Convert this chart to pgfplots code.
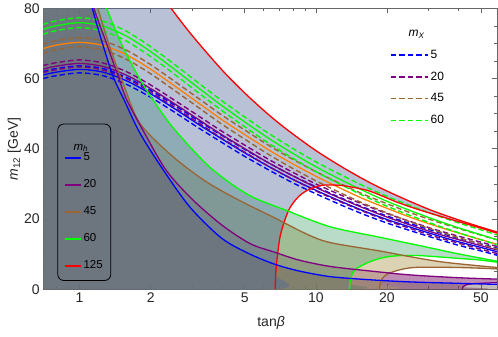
\documentclass[border=0pt]{standalone}
\usepackage{fontspec}
\setmainfont{Liberation Sans}
\usepackage{pgfplots}
\usepackage{pgfplotstable}
\pgfplotsset{compat=1.18}
\usepgfplotslibrary{fillbetween}

\definecolor{mpurple}{rgb}{0.5,0,0.5}
\definecolor{mbrown}{rgb}{0.6,0.4,0.2}
\definecolor{morange}{rgb}{1,0.5,0}
\definecolor{mgreen}{rgb}{0,1,0}
\definecolor{fillR}{RGB}{80,100,155}
\definecolor{fillG}{RGB}{36,146,83}
\definecolor{fillB}{RGB}{197,180,130}
\definecolor{fillP}{RGB}{111,0,88}
\definecolor{fillK}{RGB}{110,88,81}

% m_h = 125 boundaries
\pgfplotstableread{
t y
0.7 149
1.0 125
1.5 102
2.0 88.4
2.44 80.0
3.0 72.2
4.0 62.5
5.0 55.9
6.0 51.0
7.0 47.2
8.0 44.2
10.0 39.5
13.0 34.7
17.0 30.3
22.0 26.7
30.0 22.8
40.0 19.8
50.0 17.7
58.5 16.3
}\upR
\pgfplotstableread{
t y
0.7 0
6.73 0
6.76 4
6.85 8.5
7.06 15.0
7.4 19.8
7.79 23.3
8.4 26.2
9.16 28.1
10.4 29.5
11.5 29.7
13 29.5
15 28.8
17 27.9
20 26.0
21.3 25.2
25 23.5
30 21.8
40 19.3
50 17.4
58.5 16.0
}\loR
% m_h = 60
\pgfplotstableread{
t y
0.7 130
1.0 100
1.15 89
1.293 80.4
1.5 70.0
1.776 60.5
2.05 53.8
2.5 45.8
3.46 35.5
4.5 29.5
5.5 26.0
7.54 22.4
11.5 17.8
18.7 14.8
30 11.9
40 10.1
58.5 8.0
}\upG
\pgfplotstableread{
t y
0.7 0
13.9 0
13.93 1.5
14.05 3.0
14.3 4.5
14.8 5.8
15.9 7.0
17.5 8.2
19.9 9.2
23 9.6
27 9.6
32 9.3
40 8.8
50 8.3
58.5 7.7
}\loG
% m_h = 45
\pgfplotstableread{
t y
0.7 140
1.0 100
1.1 89
1.19 80.4
1.35 68.5
1.55 57.5
1.806 47.1
2.5 37.6
3.46 30.5
4.78 25.2
6.62 20.5
9.16 15.7
11.5 13.3
18.7 10.9
25 9.3
35 7.7
58.5 6.2
}\upB
\pgfplotstableread{
t y
0.7 0
18.6 0
18.7 1.5
19.0 2.8
19.6 3.8
20.5 4.6
22 5.3
24 5.9
26 6.2
30 6.3
40 6.2
50 6.0
58.5 5.8
}\loB
% m_h = 20
\pgfplotstableread{
t y
0.7 140
1.0 100
1.1 88
1.146 80.4
1.3 70.0
1.45 61.0
1.587 53.8
1.9 44.0
2.33 33.8
3.0 25.6
4.0 18.3
5.27 13.0
6.73 10.5
8.5 8.3
11.5 6.5
17 5.2
25 4.1
40 3.3
58.5 2.9
}\upP
\pgfplotstableread{
t y
0.7 0
41.7 0
41.9 0.6
42.8 1.1
45 1.5
50 1.7
58.5 1.9
}\loP
% m_h = 5
\pgfplotstableread{
t y
0.7 140
1.0 95
1.128 80.4
1.25 70.0
1.388 60.5
1.546 53.8
1.8 44.5
2.27 33.8
2.94 23.3
4.0 14.5
5.27 10.0
6.73 7.1
8.5 5.2
11.5 3.6
17 2.7
25 2.1
40 1.7
58.5 1.4
}\upK
\pgfplotstableread{
t y
0.7 0
58.5 0
}\loK

% m_X bands: centre and the two dashed edges
\pgfplotstableread{
t c lo hi
0.7 74.0 72.6 75.4
0.794 75.0 73.6 76.4
1.0 75.9 74.5 77.3
1.259 74.9 73.5 76.3
1.585 72.0 70.6 73.4
1.995 67.7 66.3 69.1
2.512 62.7 61.3 64.1
3.162 57.5 56.1 58.9
3.981 52.4 51.0 53.8
5.012 47.6 46.2 49.0
6.31 43.0 41.6 44.4
7.943 38.8 37.4 40.2
10 34.9 33.5 36.3
12.59 31.4 30.0 32.8
15.85 28.1 26.7 29.5
19.95 25.1 23.7 26.5
25.12 22.4 21.0 23.8
31.62 19.9 18.5 21.3
39.81 17.6 16.2 19.0
50.12 15.5 14.1 16.9
58.5 14.1 12.7 15.5
}\bandSixty
\pgfplotstableread{
t c lo hi
0.7 68.5 67.2 69.8
0.794 69.5 68.2 70.8
1.0 70.3 69.0 71.6
1.259 69.4 68.1 70.7
1.585 66.7 65.4 68.0
1.995 62.7 61.4 64.0
2.512 58.0 56.7 59.3
3.162 53.2 51.9 54.5
3.981 48.4 47.1 49.7
5.012 44.0 42.7 45.3
6.31 39.7 38.4 41.0
7.943 35.8 34.5 37.1
10 32.2 30.9 33.5
12.59 28.9 27.6 30.2
15.85 25.8 24.5 27.1
19.95 23.1 21.8 24.4
25.12 20.5 19.2 21.8
31.62 18.2 16.9 19.5
39.81 16.1 14.8 17.4
50.12 14.1 12.8 15.4
58.5 12.8 11.5 14.1
}\bandFortyfive
\pgfplotstableread{
t c lo hi
0.7 62.7 61.7 63.7
0.794 63.5 62.5 64.5
1.0 64.3 63.3 65.3
1.259 63.4 62.4 64.4
1.585 60.9 59.9 61.9
1.995 57.2 56.2 58.2
2.512 52.9 51.9 53.9
3.162 48.5 47.5 49.5
3.981 44.1 43.1 45.1
5.012 40.0 39.0 41.0
6.31 36.0 35.0 37.0
7.943 32.4 31.4 33.4
10 29.0 28.0 30.0
12.59 26.0 25.0 27.0
15.85 23.2 22.2 24.2
19.95 20.6 19.6 21.6
25.12 18.3 17.3 19.3
31.62 16.1 15.1 17.1
39.81 14.2 13.2 15.2
50.12 12.4 11.4 13.4
58.5 11.2 10.2 12.2
}\bandTwenty
\pgfplotstableread{
t c lo hi
0.7 61.0 60.0 62.0
0.794 61.8 60.8 62.8
1.0 62.6 61.6 63.6
1.259 61.8 60.8 62.8
1.585 59.3 58.3 60.3
1.995 55.7 54.7 56.7
2.512 51.5 50.5 52.5
3.162 47.1 46.1 48.1
3.981 42.9 41.9 43.9
5.012 38.8 37.8 39.8
6.31 35.0 34.0 36.0
7.943 31.4 30.4 32.4
10 28.2 27.2 29.2
12.59 25.2 24.2 26.2
15.85 22.4 21.4 23.4
19.95 19.9 18.9 20.9
25.12 17.7 16.7 18.7
31.62 15.6 14.6 16.6
39.81 13.6 12.6 14.6
50.12 11.9 10.9 12.9
58.5 10.7 9.7 11.7
}\bandFive

\pgfplotsset{
  hline/.style={line width=1.3pt, smooth, forget plot},
  dline/.style={line width=1.4pt, smooth, dash pattern=on 5.5pt off 3pt, forget plot},
  overlay axis/.style={scale only axis, width=453.7pt, height=281pt,
    hide axis, xmin=0, xmax=1, ymin=0, ymax=1, legend cell align=left},
}

\begin{document}
\begin{tikzpicture}
\begin{axis}[
  scale only axis, width=453.7pt, height=281pt,
  xmode=log, xmin=0.702, xmax=58.5, ymin=0, ymax=80,
  xtick={1,2,5,10,20,50}, xticklabels={1,2,5,10,20,50},
  minor xtick={0.8,0.9,3,4,6,7,8,9,30,40},
  ytick={0,20,40,60,80},
  minor ytick={5,10,15,25,30,35,45,50,55,65,70,75},
  major tick length=5pt, minor tick length=3pt,
  tick style={black!60, line width=0.6pt},
  axis line style={black!60, line width=0.8pt},
  /pgf/number format/assume math mode=true,
  tick label style={font=\fontsize{14}{16}\selectfont, black!85},
  xlabel={tan\textit{β}}, ylabel={\textit{m}\textsubscript{12} [GeV]},
  label style={font=\fontsize{14}{16}\selectfont, black!85},
  xlabel style={at={(axis description cs:0.502,-0.12)}, anchor=center},
  ylabel style={at={(axis description cs:-0.064,0.5)}, anchor=center},
]
% invisible boundaries for the region fills
\addplot[draw=none, name path=uR, smooth, forget plot] table[x=t,y=y] {\upR};
\addplot[draw=none, name path=lR, smooth, forget plot] table[x=t,y=y] {\loR};
\addplot[draw=none, name path=uG, smooth, forget plot] table[x=t,y=y] {\upG};
\addplot[draw=none, name path=lG, smooth, forget plot] table[x=t,y=y] {\loG};
\addplot[draw=none, name path=uB, smooth, forget plot] table[x=t,y=y] {\upB};
\addplot[draw=none, name path=lB, smooth, forget plot] table[x=t,y=y] {\loB};
\addplot[draw=none, name path=uP, smooth, forget plot] table[x=t,y=y] {\upP};
\addplot[draw=none, name path=lP, smooth, forget plot] table[x=t,y=y] {\loP};
\addplot[draw=none, name path=uK, smooth, forget plot] table[x=t,y=y] {\upK};
\addplot[draw=none, name path=lK, forget plot] table[x=t,y=y] {\loK};

\addplot[fill=fillP, fill opacity=0.45, draw=none, forget plot] fill between[of=uP and lP];
\addplot[fill=fillB, fill opacity=0.6, draw=none, forget plot] fill between[of=uB and lB];
\addplot[fill=fillG, fill opacity=0.32, draw=none, forget plot] fill between[of=uG and lG];
\addplot[fill=fillK, fill opacity=0.4, draw=none, forget plot] fill between[of=uK and lK];
\addplot[fill=fillR, fill opacity=0.4, draw=none, forget plot] fill between[of=uR and lR];

% m_X bands
\addplot[dline, blue] table[x=t,y=lo] {\bandFive};
\addplot[dline, blue] table[x=t,y=hi] {\bandFive};
\addplot[hline, blue] table[x=t,y=c] {\bandFive};
\addplot[dline, mpurple] table[x=t,y=lo] {\bandTwenty};
\addplot[dline, mpurple] table[x=t,y=hi] {\bandTwenty};
\addplot[hline, mpurple] table[x=t,y=c] {\bandTwenty};
\addplot[dline, mbrown] table[x=t,y=lo] {\bandFortyfive};
\addplot[dline, mbrown] table[x=t,y=hi] {\bandFortyfive};
\addplot[hline, morange] table[x=t,y=c] {\bandFortyfive};
\addplot[dline, mgreen] table[x=t,y=lo] {\bandSixty};
\addplot[dline, mgreen] table[x=t,y=hi] {\bandSixty};
\addplot[hline, mgreen] table[x=t,y=c] {\bandSixty};

% m_h boundaries
\addplot[hline, red] table[x=t,y=y] {\upR};
\addplot[hline, red, skip coords between index={0}{1}] table[x=t,y=y] {\loR};
\addplot[hline, mgreen] table[x=t,y=y] {\upG};
\addplot[hline, mgreen, skip coords between index={0}{1}] table[x=t,y=y] {\loG};
\addplot[hline, mbrown] table[x=t,y=y] {\upB};
\addplot[hline, mbrown, skip coords between index={0}{1}] table[x=t,y=y] {\loB};
\addplot[hline, mpurple] table[x=t,y=y] {\upP};
\addplot[hline, mpurple, skip coords between index={0}{1}] table[x=t,y=y] {\loP};
\addplot[hline, blue] table[x=t,y=y] {\upK};
\end{axis}

% m_h legend
\begin{axis}[
  overlay axis,
  legend style={at={(axis description cs:0.031,0.03)}, anchor=south west,
    draw=black, line width=0.8pt, rounded corners=6pt, fill=none,
    font=\fontsize{11.5}{13}\selectfont, row sep=13.5pt,
    inner xsep=6pt, inner ysep=8pt},
  legend image code/.code={\draw[#1] (0pt,0pt) -- (16pt,0pt);},
]
\addplot[draw=none, forget plot] coordinates {(0,0) (1,1)};
\addlegendimage{empty legend}
\addlegendentry{\hspace*{-10pt}\raisebox{-16pt}[0pt][0pt]{\textit{m}\textsubscript{\textit{h}}}}
\addlegendimage{draw=blue, line width=1.8pt}\addlegendentry{5}
\addlegendimage{draw=mpurple, line width=1.8pt}\addlegendentry{20}
\addlegendimage{draw=mbrown, line width=1.8pt}\addlegendentry{45}
\addlegendimage{draw=mgreen, line width=1.8pt}\addlegendentry{60}
\addlegendimage{draw=red, line width=1.8pt}\addlegendentry{125}
\end{axis}

% m_X legend
\begin{axis}[
  overlay axis,
  legend style={at={(axis description cs:0.764,0.93)}, anchor=north west,
    draw=none, fill=none, font=\fontsize{12}{13}\selectfont, row sep=8pt,
    inner xsep=0pt, inner ysep=0pt},
  legend image code/.code={\draw[#1] (0pt,0pt) -- (37pt,0pt);},
]
\addplot[draw=none, forget plot] coordinates {(0,0) (1,1)};
\addlegendimage{empty legend}
\addlegendentry{\hspace*{-25pt}\textit{m}\textsubscript{\textit{X}}}
\addlegendimage{draw=blue, line width=1.6pt, dash pattern=on 5.5pt off 3pt}\addlegendentry{5}
\addlegendimage{draw=mpurple, line width=1.6pt, dash pattern=on 5.5pt off 3pt}\addlegendentry{20}
\addlegendimage{draw=mbrown, line width=1.6pt, dash pattern=on 5.5pt off 3pt}\addlegendentry{45}
\addlegendimage{draw=mgreen, line width=1.6pt, dash pattern=on 5.5pt off 3pt}\addlegendentry{60}
\end{axis}
\path[use as bounding box] (-43.3pt,-47.7pt) rectangle (454.7pt,288.3pt);
\end{tikzpicture}
\end{document}
